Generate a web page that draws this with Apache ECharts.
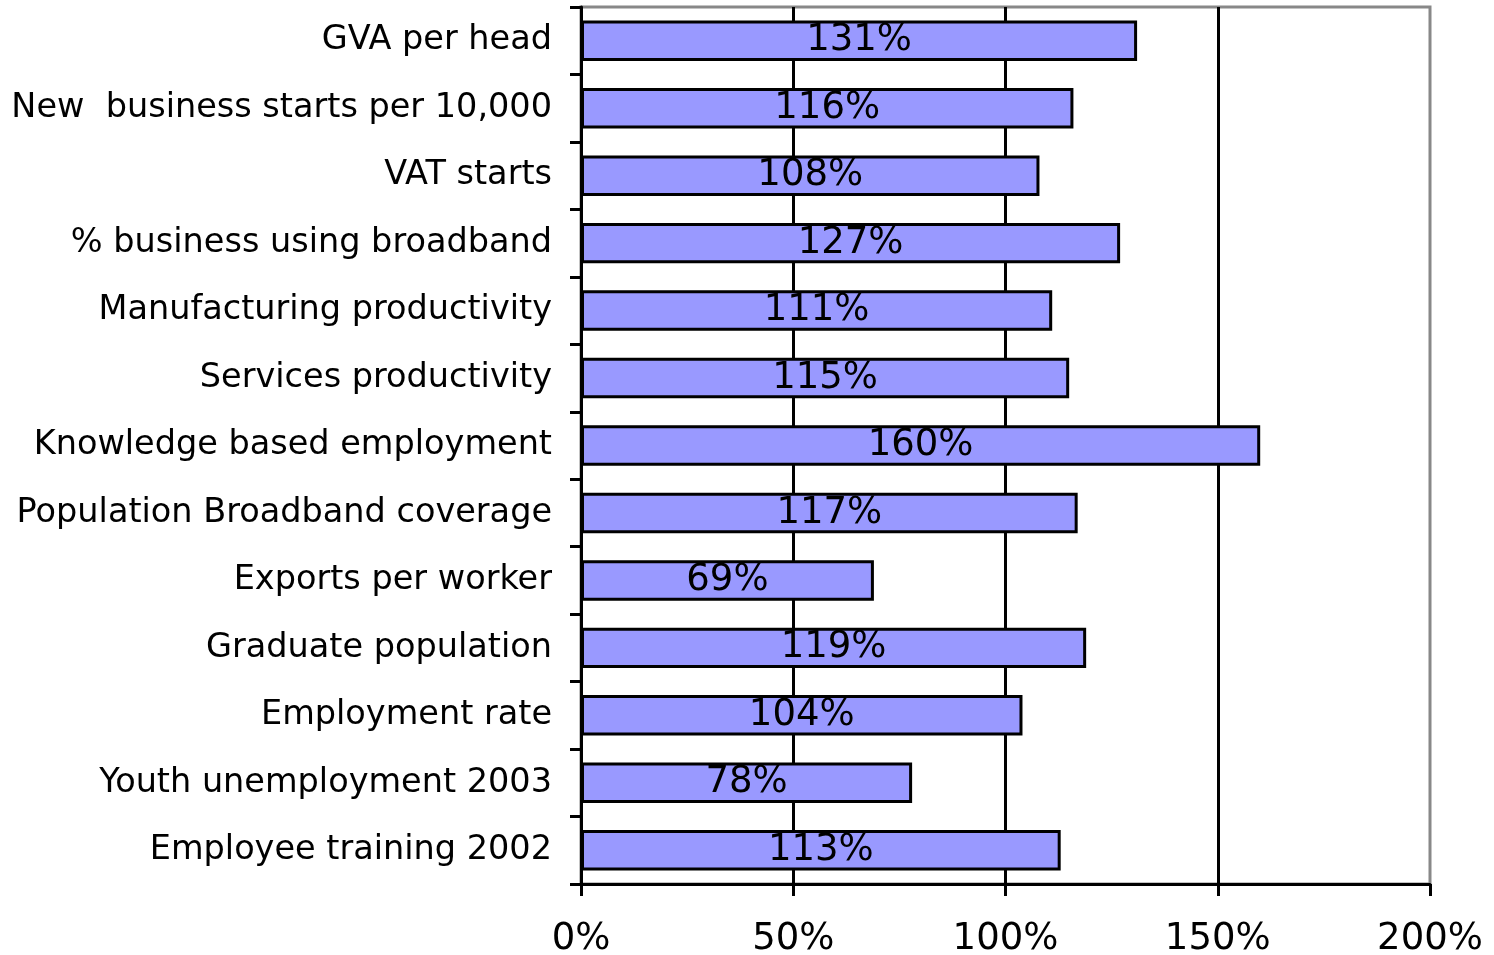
<!DOCTYPE html>
<html>
<head>
<meta charset="utf-8">
<script src="https://cdn.jsdelivr.net/npm/echarts@6/dist/echarts.min.js"></script>
<style>
html,body{margin:0;padding:0;background:#fff;}
#chart{width:1494px;height:955px;}
</style>
</head>
<body>
<div id="chart"></div>
<script>
const categories = [
  "GVA per head",
  "New  business starts per 10,000",
  "VAT starts",
  "% business using broadband",
  "Manufacturing productivity",
  "Services productivity",
  "Knowledge based employment",
  "Population Broadband coverage",
  "Exports per worker",
  "Graduate population",
  "Employment rate",
  "Youth unemployment 2003",
  "Employee training 2002"
];
const values = [131, 116, 108, 127, 111, 115, 160, 117, 69, 119, 104, 78, 113];
const xTicks = { min: 0, max: 200, interval: 50 };

const FONT = "DejaVu Sans";
const chart = echarts.init(document.getElementById('chart'));
chart.setOption({
  animation: false,
  backgroundColor: '#fff',
  grid: {
    left: 581, right: 64, top: 7, bottom: 71,
    outerBoundsMode: 'none',
    containLabel: false,
    show: true, borderColor: '#888', borderWidth: 3, backgroundColor: 'transparent'
  },
  xAxis: {
    type: 'value',
    min: xTicks.min, max: xTicks.max, interval: xTicks.interval,
    axisLine: { show: true, lineStyle: { color: '#000', width: 3 } },
    axisTick: { show: true, length: 12, lineStyle: { color: '#000', width: 3 } },
    axisLabel: { formatter: '{value}%', color: '#000', fontFamily: FONT, fontSize: 37, margin: 37 },
    splitLine: { show: true, showMinLine: false, showMaxLine: false, lineStyle: { color: '#000', width: 3 } }
  },
  yAxis: {
    type: 'category',
    inverse: true,
    data: categories,
    axisLine: { show: true, lineStyle: { color: '#000', width: 3 } },
    axisTick: { show: true, length: 11, interval: 0, lineStyle: { color: '#000', width: 3 } },
    axisLabel: { color: '#000', fontFamily: FONT, fontSize: 33.5, margin: 29, interval: 0 },
    splitLine: { show: false }
  },
  series: [{
    type: 'bar',
    data: values,
    barCategoryGap: '40%',
    itemStyle: { color: '#9999FF', borderColor: '#000', borderWidth: 3 },
    label: {
      show: true, position: 'inside', formatter: '{c}%',
      color: '#000', fontFamily: FONT, fontSize: 37
    }
  }]
});
</script>
</body>
</html>
